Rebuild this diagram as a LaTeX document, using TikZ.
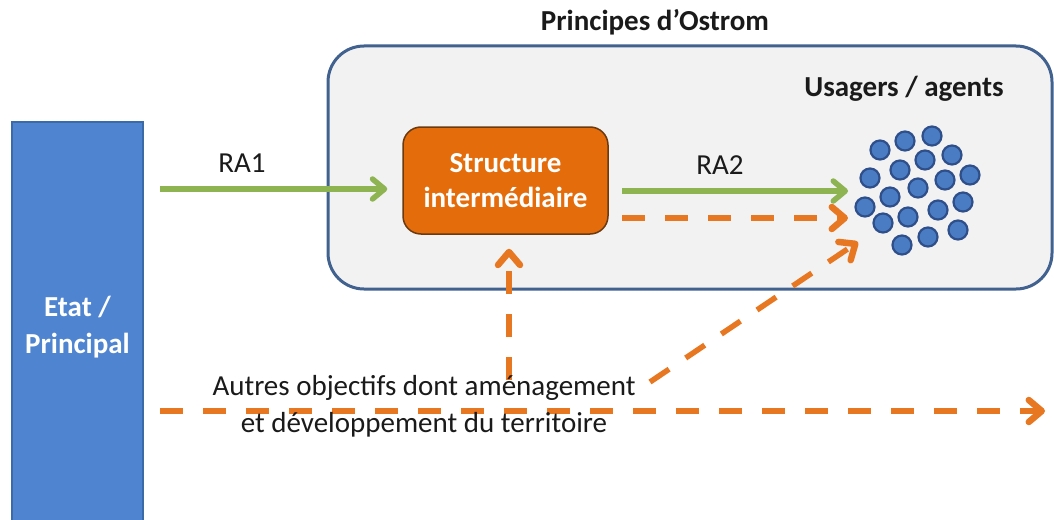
\documentclass[tikz,border=0pt]{standalone}
\usepackage{fontspec}
\setmainfont{Carlito}
\usetikzlibrary{arrows.meta,calc}
\definecolor{bgbox}{HTML}{F2F2F2}
\definecolor{boxedge}{HTML}{41618F}
\definecolor{etatfill}{HTML}{4F85D0}
\definecolor{etatedge}{HTML}{3B6AA8}
\definecolor{structfill}{HTML}{E46C0A}
\definecolor{structedge}{HTML}{6B3A10}
\definecolor{arrgreen}{HTML}{8DB450}
\definecolor{arrorange}{HTML}{E87722}
\definecolor{dotfill}{HTML}{4A7CC4}
\definecolor{dotedge}{HTML}{2F4F8A}
\definecolor{txt}{HTML}{1A1A1A}
\tikzset{
  bigfont/.style={font=\fontsize{29}{36}\selectfont},
  labeltext/.style={bigfont, text=txt, inner sep=0pt},
  boldtext/.style={bigfont, font=\fontsize{29}{36}\selectfont\bfseries, text=txt, inner sep=0pt},
  greenarrow/.style={draw=arrgreen, line width=5.5pt,
    -{Straight Barb[length=12pt,width=20pt,line width=5.5pt,round]}},
  orangearrow/.style={draw=arrorange, line width=5.5pt, dash pattern=on 23pt off 20pt,
    -{Straight Barb[length=13pt,width=22pt,line width=6.5pt,round]}},
  dot/.style={circle, fill=dotfill, draw=dotedge, line width=2.2pt, minimum size=19pt, inner sep=0pt},
}
\begin{document}
\begin{tikzpicture}[x=1pt,y=-1pt]
\useasboundingbox (0,0) rectangle (1054,519);
% container
\node[draw=boxedge, fill=bgbox, line width=3pt, rounded corners=36pt,
      minimum width=724pt, minimum height=243pt, inner sep=0pt] (ostrom) at (690,167.5) {};
\node[boldtext] (title) at (655,22) {Principes d’Ostrom};
\node[boldtext] (usagers) at (904,89) {Usagers / agents};
% Etat
\node[draw=etatedge, fill=etatfill, line width=1.5pt, minimum width=131pt, minimum height=410pt,
      inner sep=0pt, align=center, font=\fontsize{29}{37}\selectfont\bfseries, text=white]
      (etat) at (77.5,327) {Etat /\\Principal};
% Structure
\node[draw=structedge, fill=structfill, line width=1.5pt, rounded corners=18pt,
      minimum width=205pt, minimum height=107pt, inner sep=0pt, align=center,
      font=\fontsize{29}{35}\selectfont\bfseries, text=white]
      (struct) at (505.5,180.5) {Structure\\intermédiaire};
% dots
\foreach \i/\x/\y in {1/880/150,2/905/141,3/932/136,4/952/155,5/900/170,6/925/160,7/970/175,
  8/870/178,9/945/180,10/918/188,11/890/197,12/963/202,13/865/207,14/938/210,15/908/217,
  16/883/223,17/958/230,18/928/237,19/902/245}
  \node[dot] (c\i) at (\x,\y) {};
% coordinates
\coordinate (ra1s) at (160,189);
\coordinate (ra2s) at (622,191);
\coordinate (ra2e) at (848,191);
\coordinate (o1s) at (622,218);
\coordinate (o1e) at (848,218);
\coordinate (ups) at (509,380);
\coordinate (diags) at (650,382);
\coordinate (diage) at (858,242);
\coordinate (hs) at (160,411);
\coordinate (he) at (1045,411);
% arrows
\draw[greenarrow] (ra1s) -- ($(ra1s -| struct.west)+(-15,0)$);
\node[labeltext] (ra1) at (242,163) {RA1};
\draw[greenarrow] (ra2s) -- (ra2e);
\node[labeltext] (ra2) at (720,165) {RA2};
\draw[orangearrow] (o1s) -- (o1e);
\draw[orangearrow] (ups) -- ($(ups |- struct.south)+(0,14)$);
\draw[orangearrow] (diags) -- (diage);
\draw[orangearrow] (hs) -- (he);
\node[labeltext, align=center, font=\fontsize{29}{37}\selectfont] (autres) at (424,406)
  {Autres objectifs dont aménagement\\et développement du territoire};
\end{tikzpicture}
\end{document}
